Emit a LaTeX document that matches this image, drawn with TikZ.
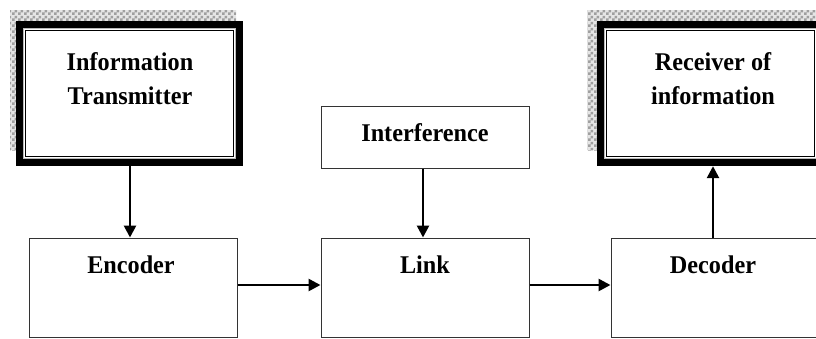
\documentclass[tikz,border=0pt]{standalone}
\usepackage{fontspec}
\setmainfont{Liberation Serif}[FakeStretch=0.95]
\usetikzlibrary{arrows.meta,patterns,calc}
\pgfdeclarepatternformonly{chk}{\pgfqpoint{0pt}{0pt}}{\pgfqpoint{6pt}{6pt}}{\pgfqpoint{6pt}{6pt}}{%
  \pgfpathrectangle{\pgfqpoint{0pt}{0pt}}{\pgfqpoint{3pt}{3pt}}%
  \pgfpathrectangle{\pgfqpoint{3pt}{3pt}}{\pgfqpoint{3pt}{3pt}}%
  \pgfusepath{fill}}
\begin{document}
\begin{tikzpicture}[x=1pt,y=-1pt,
  box/.style={draw=black!80,line width=1pt,fill=white,minimum width=208pt,minimum height=99pt,inner sep=0pt},
  framebox/.style={fill=white,minimum width=227pt,minimum height=145pt,inner sep=0pt},
  lbl/.style={font=\fontsize{25.5}{34}\selectfont\bfseries,align=center,inner sep=0pt},
  arr/.style={line width=2.6pt,-{Triangle[length=12pt,width=12pt]}}]
\useasboundingbox (0,0) rectangle (816,338);
\fill[white] (0,0) rectangle (816,338);
% shadows
\fill[gray!20] (10,10) rectangle (236,150);
\fill[pattern=chk,pattern color=gray!75] (10,10) rectangle (236,150);
\fill[gray!20] (587,10) rectangle (816,150);
\fill[pattern=chk,pattern color=gray!75] (587,10) rectangle (816,150);
% framed boxes
\node[framebox] (trans) at (129.5,93.5) {};
\node[framebox] (recv) at (710.5,93.5) {};
\foreach \n in {trans,recv}{
  \draw[line width=7pt] ([shift={(3.5,3.5)}]\n.north west) rectangle ([shift={(-3.5,-3.5)}]\n.south east);
  \draw[line width=1pt,gray!55] ([shift={(7.6,7.6)}]\n.north west) rectangle ([shift={(-7.6,-7.6)}]\n.south east);
  \draw[line width=1.8pt] ([shift={(9.7,9.7)}]\n.north west) rectangle ([shift={(-9.7,-9.7)}]\n.south east);
}
\node[lbl] (transtxt) at (130,79) {Information\\Transmitter};
\node[lbl] (recvtxt) at (713,79) {Receiver of\\information};
% plain boxes
\node[box,minimum height=62pt] (intf) at (425,137) {};
\node[lbl] (intftxt) at (425,133) {Interference};
\node[box] (enc) at (133,287.5) {};
\node[lbl] (enctxt) at (131,265) {Encoder};
\node[box] (link) at (425,287.5) {};
\node[lbl] (linktxt) at (425,265) {Link};
\node[box] (dec) at (715,287.5) {};
\node[lbl] (dectxt) at (713,265) {Decoder};
% connectors
\draw[arr] ([xshift=0.5pt]trans.south) -- ([xshift=0.5pt]trans.south |- enc.north);
\draw[arr] ([xshift=-2pt]intf.south) -- ([xshift=-2pt]intf.south |- link.north);
\draw[arr] ([yshift=2.5pt]enc.east) -- ([yshift=2.5pt]enc.east -| link.west);
\draw[arr] ([yshift=2.5pt]link.east) -- ([yshift=2.5pt]link.east -| dec.west);
\draw[arr] ([xshift=-2pt]dec.north) -- ([xshift=-2pt]dec.north |- recv.south);
\end{tikzpicture}
\end{document}
